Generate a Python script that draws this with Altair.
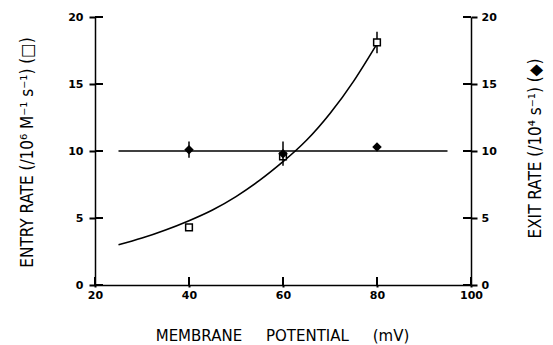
import altair as alt
import pandas as pd

# Membrane potential (mV) at which the rates were measured
potential = [40, 60, 80]

# Entry rate (/10^6 M^-1 s^-1), open squares
entry_rate = [4.3, 9.6, 18.1]
entry_err = [0.0, 0.0, 0.8]

# Exit rate (/10^4 s^-1), filled diamonds
exit_rate = [10.1, 9.8, 10.3]
exit_err = [0.6, 0.9, 0.0]

# Exponential fit through the entry rates
fit_x = [25, 30, 35, 40, 45, 50, 55, 60, 65, 70, 75, 80]
fit_y = [3.0, 3.5, 4.1, 4.8, 5.6, 6.6, 7.8, 9.2, 10.8, 12.8, 15.2, 18.0]

# Mean exit rate line
mean_x = [25, 95]
mean_y = [10.0, 10.0]

x_ticks = [20, 40, 60, 80, 100]
y_ticks = [0, 5, 10, 15, 20]

W, H = 376, 268
FONT = "DejaVu Sans"
TITLE_FONT = "Liberation Sans Narrow, DejaVu Sans Condensed, DejaVu Sans"
GAP = "\u00a0" * 5
TICK_IN = 8

pts = pd.DataFrame({
    "x": potential,
    "entry": entry_rate,
    "entry_lo": [v - e for v, e in zip(entry_rate, entry_err)],
    "entry_hi": [v + e for v, e in zip(entry_rate, entry_err)],
    "exit": exit_rate,
    "exit_lo": [v - e for v, e in zip(exit_rate, exit_err)],
    "exit_hi": [v + e for v, e in zip(exit_rate, exit_err)],
})
fit = pd.DataFrame({"x": fit_x, "entry": fit_y})
mean = pd.DataFrame({"x": mean_x, "exit": mean_y})
xt = pd.DataFrame({"x": [float(v) for v in x_ticks]})
ytL = pd.DataFrame({"entry": [float(v) for v in y_ticks]})
ytR = pd.DataFrame({"exit": [float(v) for v in y_ticks]})

common_axis = dict(
    grid=False, domainColor="black", domainWidth=1.5, tickColor="black",
    tickWidth=2, labelFont=FONT, labelFontWeight="bold", labelFontSize=11,
    labelColor="black", titleColor="black", titleFontWeight="normal",
)

X = alt.X("x:Q", scale=alt.Scale(domain=[20, 100], nice=False, zero=False),
          axis=alt.Axis(values=x_ticks, tickSize=2, labelPadding=2,
                        title=f"MEMBRANE{GAP}POTENTIAL{GAP}(mV)", titleFont=FONT,
                        titleFontSize=15, titleX=187, titleY=50,
                        titleAlign="center", titleBaseline="middle",
                        labelFlush=False, **common_axis))

yscale = alt.Scale(domain=[0, 20], nice=False)

def YL(field):
    return alt.Y(f"{field}:Q", scale=yscale,
                 axis=alt.Axis(orient="left", values=y_ticks, tickSize=6,
                               labelPadding=6,
                               title="ENTRY RATE (/10⁶ M⁻¹ s⁻¹) (□)",
                               titleFont=TITLE_FONT, titleFontSize=17,
                               titleAngle=270, titleX=-68, titleY=135,
                               titleAlign="center", titleBaseline="middle",
                               **common_axis))

def YR(field):
    return alt.Y(f"{field}:Q", scale=yscale,
                 axis=alt.Axis(orient="right", values=y_ticks, tickSize=6,
                               labelPadding=4,
                               title="EXIT RATE (/10⁴ s⁻¹) (◆)",
                               titleFont=TITLE_FONT, titleFontSize=17,
                               titleAngle=270, titleX=64, titleY=131,
                               titleAlign="center", titleBaseline="middle",
                               **common_axis))

# Left-scale layers: entry rate, its fit, inner ticks of left and bottom axes
fit_line = alt.Chart(fit).mark_line(color="black", strokeWidth=1.6,
                                    interpolate="natural").encode(x=X, y=YL("entry"))
entry_bars = alt.Chart(pts).mark_rule(color="black", strokeWidth=1.5).encode(
    x=X, y=YL("entry_lo"), y2="entry_hi:Q")
entry_pts = alt.Chart(pts).mark_point(shape="square", size=45, filled=True,
                                      fill="white", stroke="black",
                                      strokeWidth=1.5, opacity=1).encode(x=X, y=YL("entry"))
left_ticks = alt.Chart(ytL).mark_rule(color="#000000", strokeWidth=2).encode(
    y=YL("entry"), x=alt.value(0), x2=alt.value(TICK_IN))
bottom_ticks = alt.Chart(xt).mark_rule(color="#000000", strokeWidth=2).encode(
    x=X, y=alt.value(H - TICK_IN), y2=alt.value(H))

left = alt.layer(fit_line, entry_bars, entry_pts, left_ticks, bottom_ticks)

# Right-scale layers: exit rate and its mean
mean_line = alt.Chart(mean).mark_line(color="black", strokeWidth=1.6).encode(
    x=X, y=YR("exit"))
exit_bars = alt.Chart(pts).mark_rule(color="black", strokeWidth=1.5).encode(
    x=X, y=YR("exit_lo"), y2="exit_hi:Q")
exit_pts = alt.Chart(pts).mark_point(shape="diamond", size=90, filled=True,
                                     color="black", opacity=1).encode(x=X, y=YR("exit"))
right_ticks = alt.Chart(ytR).mark_rule(color="#000000", strokeWidth=2).encode(
    y=YR("exit"), x=alt.value(W - TICK_IN), x2=alt.value(W))

right = alt.layer(mean_line, exit_bars, exit_pts, right_ticks)

chart = alt.layer(left, right).resolve_scale(y="independent").properties(
    width=W, height=H, autosize="none",
    padding={"left": 95, "top": 17, "right": 553 - 95 - W, "bottom": 345 - 17 - H},
    background="white",
).configure_view(stroke=None)

chart.save("out.html", embed_options={"renderer": "svg", "actions": False})
